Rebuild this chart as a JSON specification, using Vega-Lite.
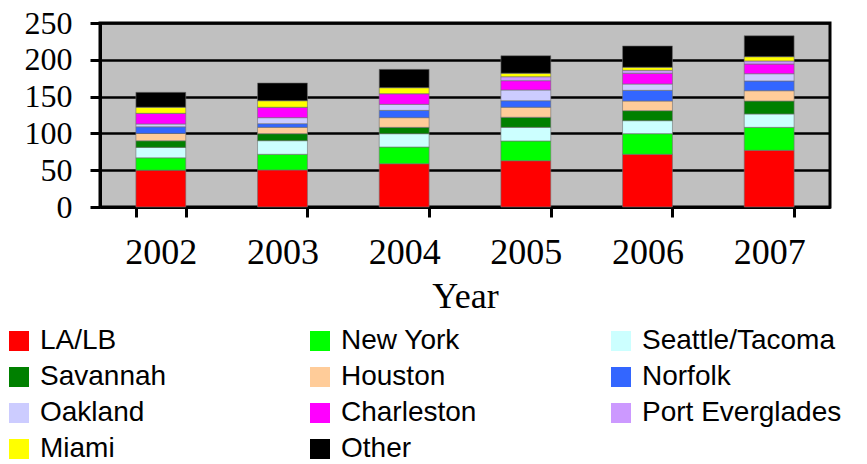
{
  "$schema": "https://vega.github.io/schema/vega-lite/v6.json",
  "autosize": {"type": "none"},
  "width": 730,
  "height": 184,
  "padding": {"left": 100, "top": 23, "right": 37, "bottom": 257},
  "background": "white",
  "title": {
    "text": "(Million Metric Tons)",
    "font": "Liberation Serif",
    "fontSize": 38,
    "fontWeight": "normal",
    "color": "black",
    "frame": "group",
    "anchor": "middle",
    "baseline": "alphabetic",
    "offset": 20,
    "dx": -23
  },
  "data": {
    "values": [
      {"year": "2002", "port": "LA/LB", "series": 1, "tons": 50},
      {"year": "2002", "port": "New York", "series": 2, "tons": 16.8},
      {"year": "2002", "port": "Seattle/Tacoma", "series": 3, "tons": 14.2},
      {"year": "2002", "port": "Savannah", "series": 4, "tons": 9},
      {"year": "2002", "port": "Houston", "series": 5, "tons": 10},
      {"year": "2002", "port": "Norfolk", "series": 6, "tons": 9},
      {"year": "2002", "port": "Oakland", "series": 7, "tons": 3.8},
      {"year": "2002", "port": "Charleston", "series": 8, "tons": 14.5},
      {"year": "2002", "port": "Port Everglades", "series": 9, "tons": 0},
      {"year": "2002", "port": "Miami", "series": 10, "tons": 8.2},
      {"year": "2002", "port": "Other", "series": 11, "tons": 20.3},
      {"year": "2003", "port": "LA/LB", "series": 1, "tons": 50.3},
      {"year": "2003", "port": "New York", "series": 2, "tons": 21.3},
      {"year": "2003", "port": "Seattle/Tacoma", "series": 3, "tons": 18.5},
      {"year": "2003", "port": "Savannah", "series": 4, "tons": 9.5},
      {"year": "2003", "port": "Houston", "series": 5, "tons": 8.6},
      {"year": "2003", "port": "Norfolk", "series": 6, "tons": 5},
      {"year": "2003", "port": "Oakland", "series": 7, "tons": 8.2},
      {"year": "2003", "port": "Charleston", "series": 8, "tons": 14.1},
      {"year": "2003", "port": "Port Everglades", "series": 9, "tons": 0},
      {"year": "2003", "port": "Miami", "series": 10, "tons": 8.9},
      {"year": "2003", "port": "Other", "series": 11, "tons": 24.1},
      {"year": "2004", "port": "LA/LB", "series": 1, "tons": 58.8},
      {"year": "2004", "port": "New York", "series": 2, "tons": 22.7},
      {"year": "2004", "port": "Seattle/Tacoma", "series": 3, "tons": 18.1},
      {"year": "2004", "port": "Savannah", "series": 4, "tons": 8.6},
      {"year": "2004", "port": "Houston", "series": 5, "tons": 13.2},
      {"year": "2004", "port": "Norfolk", "series": 6, "tons": 9.9},
      {"year": "2004", "port": "Oakland", "series": 7, "tons": 8.2},
      {"year": "2004", "port": "Charleston", "series": 8, "tons": 14.5},
      {"year": "2004", "port": "Port Everglades", "series": 9, "tons": 0},
      {"year": "2004", "port": "Miami", "series": 10, "tons": 8.1},
      {"year": "2004", "port": "Other", "series": 11, "tons": 24.9},
      {"year": "2005", "port": "LA/LB", "series": 1, "tons": 62.9},
      {"year": "2005", "port": "New York", "series": 2, "tons": 26.8},
      {"year": "2005", "port": "Seattle/Tacoma", "series": 3, "tons": 18.5},
      {"year": "2005", "port": "Savannah", "series": 4, "tons": 13.7},
      {"year": "2005", "port": "Houston", "series": 5, "tons": 13.6},
      {"year": "2005", "port": "Norfolk", "series": 6, "tons": 8.9},
      {"year": "2005", "port": "Oakland", "series": 7, "tons": 14.6},
      {"year": "2005", "port": "Charleston", "series": 8, "tons": 12.6},
      {"year": "2005", "port": "Port Everglades", "series": 9, "tons": 5.4},
      {"year": "2005", "port": "Miami", "series": 10, "tons": 4.7},
      {"year": "2005", "port": "Other", "series": 11, "tons": 23.9},
      {"year": "2006", "port": "LA/LB", "series": 1, "tons": 71.6},
      {"year": "2006", "port": "New York", "series": 2, "tons": 28},
      {"year": "2006", "port": "Seattle/Tacoma", "series": 3, "tons": 17.7},
      {"year": "2006", "port": "Savannah", "series": 4, "tons": 13.6},
      {"year": "2006", "port": "Houston", "series": 5, "tons": 13.1},
      {"year": "2006", "port": "Norfolk", "series": 6, "tons": 14.5},
      {"year": "2006", "port": "Oakland", "series": 7, "tons": 8.6},
      {"year": "2006", "port": "Charleston", "series": 8, "tons": 14.6},
      {"year": "2006", "port": "Port Everglades", "series": 9, "tons": 4},
      {"year": "2006", "port": "Miami", "series": 10, "tons": 4.1},
      {"year": "2006", "port": "Other", "series": 11, "tons": 29},
      {"year": "2007", "port": "LA/LB", "series": 1, "tons": 77},
      {"year": "2007", "port": "New York", "series": 2, "tons": 31.2},
      {"year": "2007", "port": "Seattle/Tacoma", "series": 3, "tons": 18.2},
      {"year": "2007", "port": "Savannah", "series": 4, "tons": 17.6},
      {"year": "2007", "port": "Houston", "series": 5, "tons": 14},
      {"year": "2007", "port": "Norfolk", "series": 6, "tons": 13.2},
      {"year": "2007", "port": "Oakland", "series": 7, "tons": 9.9},
      {"year": "2007", "port": "Charleston", "series": 8, "tons": 13.2},
      {"year": "2007", "port": "Port Everglades", "series": 9, "tons": 4.1},
      {"year": "2007", "port": "Miami", "series": 10, "tons": 5.8},
      {"year": "2007", "port": "Other", "series": 11, "tons": 28.5}
    ]
  },
  "mark": {"type": "bar", "stroke": "#707070", "strokeWidth": 0.6},
  "encoding": {
    "x": {
      "field": "year",
      "type": "nominal",
      "title": "Year",
      "scale": {"paddingInner": 0.59, "paddingOuter": 0.295},
      "axis": {
        "labelAngle": 0,
        "tickBand": "extent",
        "grid": false,
        "domainColor": "black",
        "domainWidth": 3,
        "tickColor": "black",
        "tickWidth": 3,
        "tickSize": 10,
        "labelFont": "Liberation Serif",
        "labelFontSize": 36,
        "labelColor": "black",
        "labelPadding": 18,
        "titleFont": "Liberation Serif",
        "titleFontSize": 36,
        "titleFontWeight": "normal",
        "titleColor": "black",
        "titlePadding": 9
      }
    },
    "y": {
      "field": "tons",
      "type": "quantitative",
      "stack": "zero",
      "title": null,
      "scale": {"domain": [0, 250], "nice": false},
      "axis": {
        "values": [0, 50, 100, 150, 200, 250],
        "grid": true,
        "gridColor": "black",
        "gridWidth": 2.5,
        "gridOpacity": 1,
        "domainColor": "black",
        "domainWidth": 3,
        "tickColor": "black",
        "tickWidth": 3,
        "tickSize": 10,
        "labelFont": "Liberation Serif",
        "labelFontSize": 32,
        "labelColor": "black",
        "labelPadding": 18
      }
    },
    "order": {"field": "series", "type": "quantitative", "sort": "ascending"},
    "color": {
      "field": "port",
      "type": "nominal",
      "scale": {
        "domain": ["LA/LB", "Savannah", "Oakland", "Miami", "New York", "Houston", "Charleston", "Other", "Seattle/Tacoma", "Norfolk", "Port Everglades"],
        "range": ["#FF0000", "#008000", "#CCCCFF", "#FFFF00", "#00FF00", "#FFCC99", "#FF00FF", "#000000", "#CCFFFF", "#3366FF", "#CC99FF"]
      },
      "legend": {
        "title": null,
        "orient": "none",
        "legendX": -95,
        "legendY": 304,
        "columns": 3,
        "gridAlign": "all",
        "columnPadding": 66,
        "rowPadding": 8,
        "padding": 0,
        "symbolType": "square",
        "symbolSize": 400,
        "symbolStrokeWidth": 0,
        "symbolOpacity": 1,
        "labelFont": "Liberation Sans",
        "labelFontSize": 28,
        "labelColor": "black",
        "labelOffset": 7,
        "labelLimit": 300
      }
    }
  },
  "config": {
    "view": {"fill": "#C0C0C0", "stroke": "black", "strokeWidth": 3}
  }
}
